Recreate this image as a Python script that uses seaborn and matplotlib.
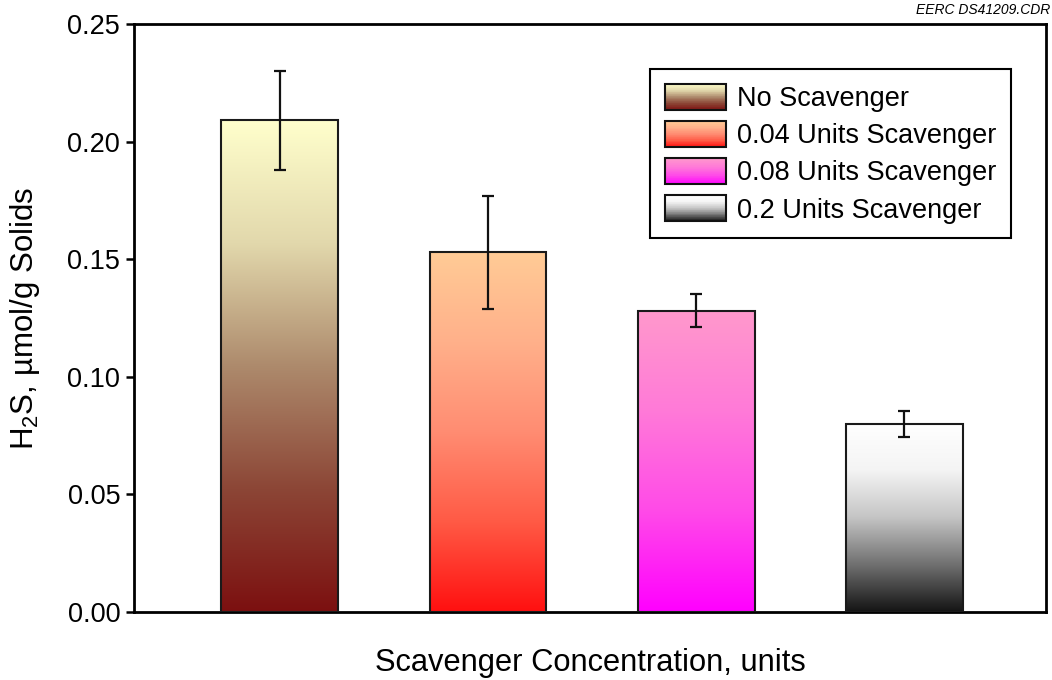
import numpy as np
import pandas as pd
import matplotlib
matplotlib.use("Agg")
import matplotlib.pyplot as plt
import seaborn as sns
from matplotlib.colors import LinearSegmentedColormap
from matplotlib.legend_handler import HandlerBase
from matplotlib.patches import Rectangle

# Data: H2S release per gram of solids at each scavenger dose
categories = ["No Scavenger", "0.04 Units Scavenger", "0.08 Units Scavenger", "0.2 Units Scavenger"]
h2s_mean = [0.209, 0.153, 0.128, 0.080]
h2s_err = [0.021, 0.024, 0.007, 0.0055]
y_ticks = [0.00, 0.05, 0.10, 0.15, 0.20, 0.25]

# Vertical gradients (bottom -> top) used to fill each bar
gradients = [
    ["#7c1010", "#8c4636", "#ad8a6c", "#e2d8ac", "#ffffcc"],
    ["#ff1010", "#ff5a45", "#ff8c72", "#ffb08a", "#ffcb96"],
    ["#ff00ff", "#ff4ae8", "#ff7ad8", "#ff99cc"],
    ["#141414", "#707070", "#c4c4c4", "#f4f4f4", "#ffffff"],
]
cmaps = [LinearSegmentedColormap.from_list(f"g{i}", c) for i, c in enumerate(gradients)]

sns.set_theme(style="white")
plt.rcParams["font.family"] = ["Liberation Sans", "DejaVu Sans"]
plt.rcParams["mathtext.fontset"] = "custom"
plt.rcParams["mathtext.rm"] = "Liberation Sans"
plt.rcParams["mathtext.it"] = "Liberation Sans:italic"
plt.rcParams["text.color"] = "black"
plt.rcParams["axes.labelcolor"] = "black"
plt.rcParams["ytick.color"] = "black"
plt.rcParams["xtick.color"] = "black"

fig = plt.figure(figsize=(10.52, 6.8), dpi=100)
ax = fig.add_axes([0.1274, 0.1, 0.8669, 0.8647])

df = pd.DataFrame({"group": categories, "h2s": h2s_mean})
sns.barplot(data=df, x="group", y="h2s", order=categories, errorbar=None,
            width=0.56, color="white", edgecolor="#1a1a1a", linewidth=1.5,
            ax=ax, zorder=3)

# Paint each bar with its gradient, clipped to the bar outline
grad = np.linspace(0, 1, 256).reshape(-1, 1)
for patch, cm in zip(ax.patches, cmaps):
    x0, y0 = patch.get_x(), patch.get_y()
    w, h = patch.get_width(), patch.get_height()
    im = ax.imshow(grad, cmap=cm, extent=[x0, x0 + w, y0, y0 + h],
                   origin="lower", aspect="auto", zorder=2.5, interpolation="bilinear")
    im.set_clip_path(patch)
    patch.set_facecolor("none")

ax.errorbar(np.arange(len(categories)), h2s_mean, yerr=h2s_err, fmt="none",
            ecolor="#111111", elinewidth=1.6, capsize=4.5, capthick=1.6, zorder=4)

ax.set_xlim(-0.7, 3.68)
ax.set_ylim(0, 0.25)
ax.set_yticks(y_ticks)
ax.set_yticklabels([f"{t:.2f}" for t in y_ticks])
ax.set_xticks([])
ax.tick_params(axis="y", which="major", left=True, direction="out", length=6,
               width=1.8, labelsize=19.5, pad=4, color="black", labelcolor="black")
for s in ax.spines.values():
    s.set_visible(True)
    s.set_color("black")
    s.set_linewidth(2)

ax.set_xlabel("Scavenger Concentration, units", fontsize=22.2, labelpad=26)
ax.set_ylabel(r"H$_2$S, µmol/g Solids", fontsize=22.5, labelpad=18)


class GradientHandler(HandlerBase):
    def __init__(self, cmap, n=40):
        super().__init__()
        self.cmap = cmap
        self.n = n

    def create_artists(self, legend, orig_handle, xdescent, ydescent,
                       width, height, fontsize, trans):
        arts = []
        for i in range(self.n):
            r = Rectangle((-xdescent, -ydescent + height * i / self.n), width,
                          height / self.n + 0.3, facecolor=self.cmap((i + 0.5) / self.n),
                          edgecolor="none", transform=trans)
            arts.append(r)
        border = Rectangle((-xdescent, -ydescent), width, height, facecolor="none",
                           edgecolor="#111111", linewidth=1.5, transform=trans)
        arts.append(border)
        return arts


handles = [Rectangle((0, 0), 1, 1) for _ in categories]
leg = ax.legend(handles, categories,
                handler_map={h: GradientHandler(cm) for h, cm in zip(handles, cmaps)},
                loc="upper right", bbox_to_anchor=(0.962, 0.9235), fontsize=19.5,
                frameon=True, fancybox=False, edgecolor="black", framealpha=1,
                handlelength=2.25, handleheight=1.1, handletextpad=0.4,
                labelspacing=0.33, borderpad=0.55, borderaxespad=0)
leg.get_frame().set_linewidth(1.5)

fig.text(0.998, 0.985, "EERC DS41209.CDR", ha="right", va="center",
         fontsize=10, style="italic", color="black")

fig.savefig("out.png", dpi=100, facecolor="white")
